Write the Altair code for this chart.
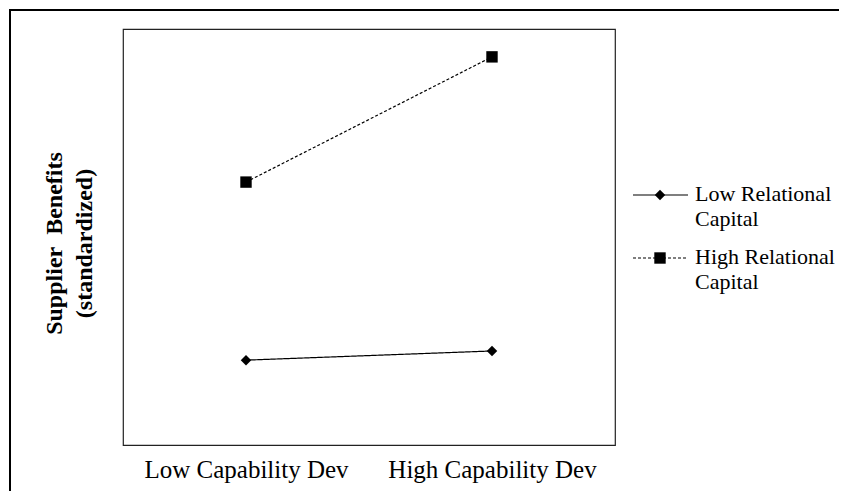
import altair as alt
import pandas as pd

# ---- data ----
CATEGORIES = ["Low Capability Dev", "High Capability Dev"]
SERIES = ["Low Relational Capital", "High Relational Capital"]
LEGEND_LABELS = ["Low Relational\nCapital", "High Relational\nCapital"]
LOW_REL = [0.204, 0.226]
HIGH_REL = [0.632, 0.933]
Y_TITLE = ["Supplier\u00a0 Benefits", "(standardized)"]

rows = []
for s, vals in zip(SERIES, [LOW_REL, HIGH_REL]):
    for c, v in zip(CATEGORIES, vals):
        rows.append({"series": s, "dev": c, "value": v})
df = pd.DataFrame(rows)
leg = pd.DataFrame({"series": SERIES, "label": LEGEND_LABELS})
one = pd.DataFrame({"k": [0]})

FONT = "Liberation Serif"
W, H = 492, 416
PAD = {"left": 115, "top": 21, "right": 831 - 115 - W, "bottom": 483 - 21 - H}
LEGEND_ROW_Y = [166, 229]  # legend row centres, px below plot top

shape_scale = alt.Scale(domain=SERIES, range=["diamond", "square"])
size_scale = alt.Scale(domain=SERIES, range=[110, 130])
dash_scale = alt.Scale(domain=SERIES, range=[[1, 0], [3, 2]])
DASHES = [[1, 0], [3, 2]]
SHAPES = ["diamond", "square"]
SIZES = [110, 130]

x_enc = alt.X(
    "dev:N",
    sort=CATEGORIES,
    scale=alt.Scale(domain=CATEGORIES, padding=0.5),
    axis=alt.Axis(
        title=None, domain=False, ticks=False, labelAngle=0, labelLimit=400,
        labelFont=FONT, labelFontSize=25, labelColor="black", labelPadding=12,
    ),
)
y_enc = alt.Y(
    "value:Q",
    scale=alt.Scale(domain=[0, 1], nice=False, zero=False),
    axis=alt.Axis(
        title=Y_TITLE, domain=False, ticks=False, labels=False, grid=False,
        titleFont=FONT, titleFontSize=24, titleFontWeight="bold", titleColor="black",
        titleAngle=-90, titleX=-69, titleY=214, titleAlign="center",
        titleBaseline="middle", titleLineHeight=30,
    ),
)

lines = alt.Chart(df).mark_line(color="black", strokeWidth=1.2).encode(
    x=x_enc, y=y_enc,
    strokeDash=alt.StrokeDash("series:N", scale=dash_scale, legend=None),
    detail="series:N",
)
points = alt.Chart(df).mark_point(filled=True, color="black", opacity=1).encode(
    x=x_enc, y=y_enc,
    shape=alt.Shape("series:N", scale=shape_scale, legend=None),
    size=alt.Size("series:N", scale=size_scale, legend=None),
)
main = alt.layer(lines, points)

# hand-built legend (line + marker + two-line label) for each series
legend_layers = []
for i, s in enumerate(SERIES):
    base = alt.Chart(leg).transform_filter(alt.datum.series == s)
    ry = LEGEND_ROW_Y[i]
    legend_layers.append(
        base.mark_rule(color="black", strokeWidth=1.2, strokeDash=DASHES[i]).encode(
            x=alt.value(510), x2=alt.value(565), y=alt.value(ry)
        )
    )
    legend_layers.append(
        base.mark_point(filled=True, color="black", opacity=1, shape=SHAPES[i], size=SIZES[i]).encode(
            x=alt.value(537), y=alt.value(ry)
        )
    )
    legend_layers.append(
        base.mark_text(
            align="left", baseline="top", dy=-11, lineBreak="\n", lineHeight=25,
            font=FONT, fontSize=22, color="black",
        ).encode(x=alt.value(572), y=alt.value(ry), text="label:N")
    )

border_left = alt.Chart(one).mark_rule(color="black", strokeWidth=2).encode(
    x=alt.value(-113), y=alt.value(-20), y2=alt.value(470)
)
border_top = alt.Chart(one).mark_rule(color="black", strokeWidth=2).encode(
    x=alt.value(-114), x2=alt.value(720), y=alt.value(-19)
)

chart = alt.layer(border_left, border_top, main, *legend_layers).properties(
    width=W, height=H, padding=PAD, autosize=alt.AutoSizeParams(type="none"),
    background="white",
).configure_view(stroke="#222", strokeWidth=1.2)

chart.save("out.html", embed_options={"renderer": "svg", "actions": False})
